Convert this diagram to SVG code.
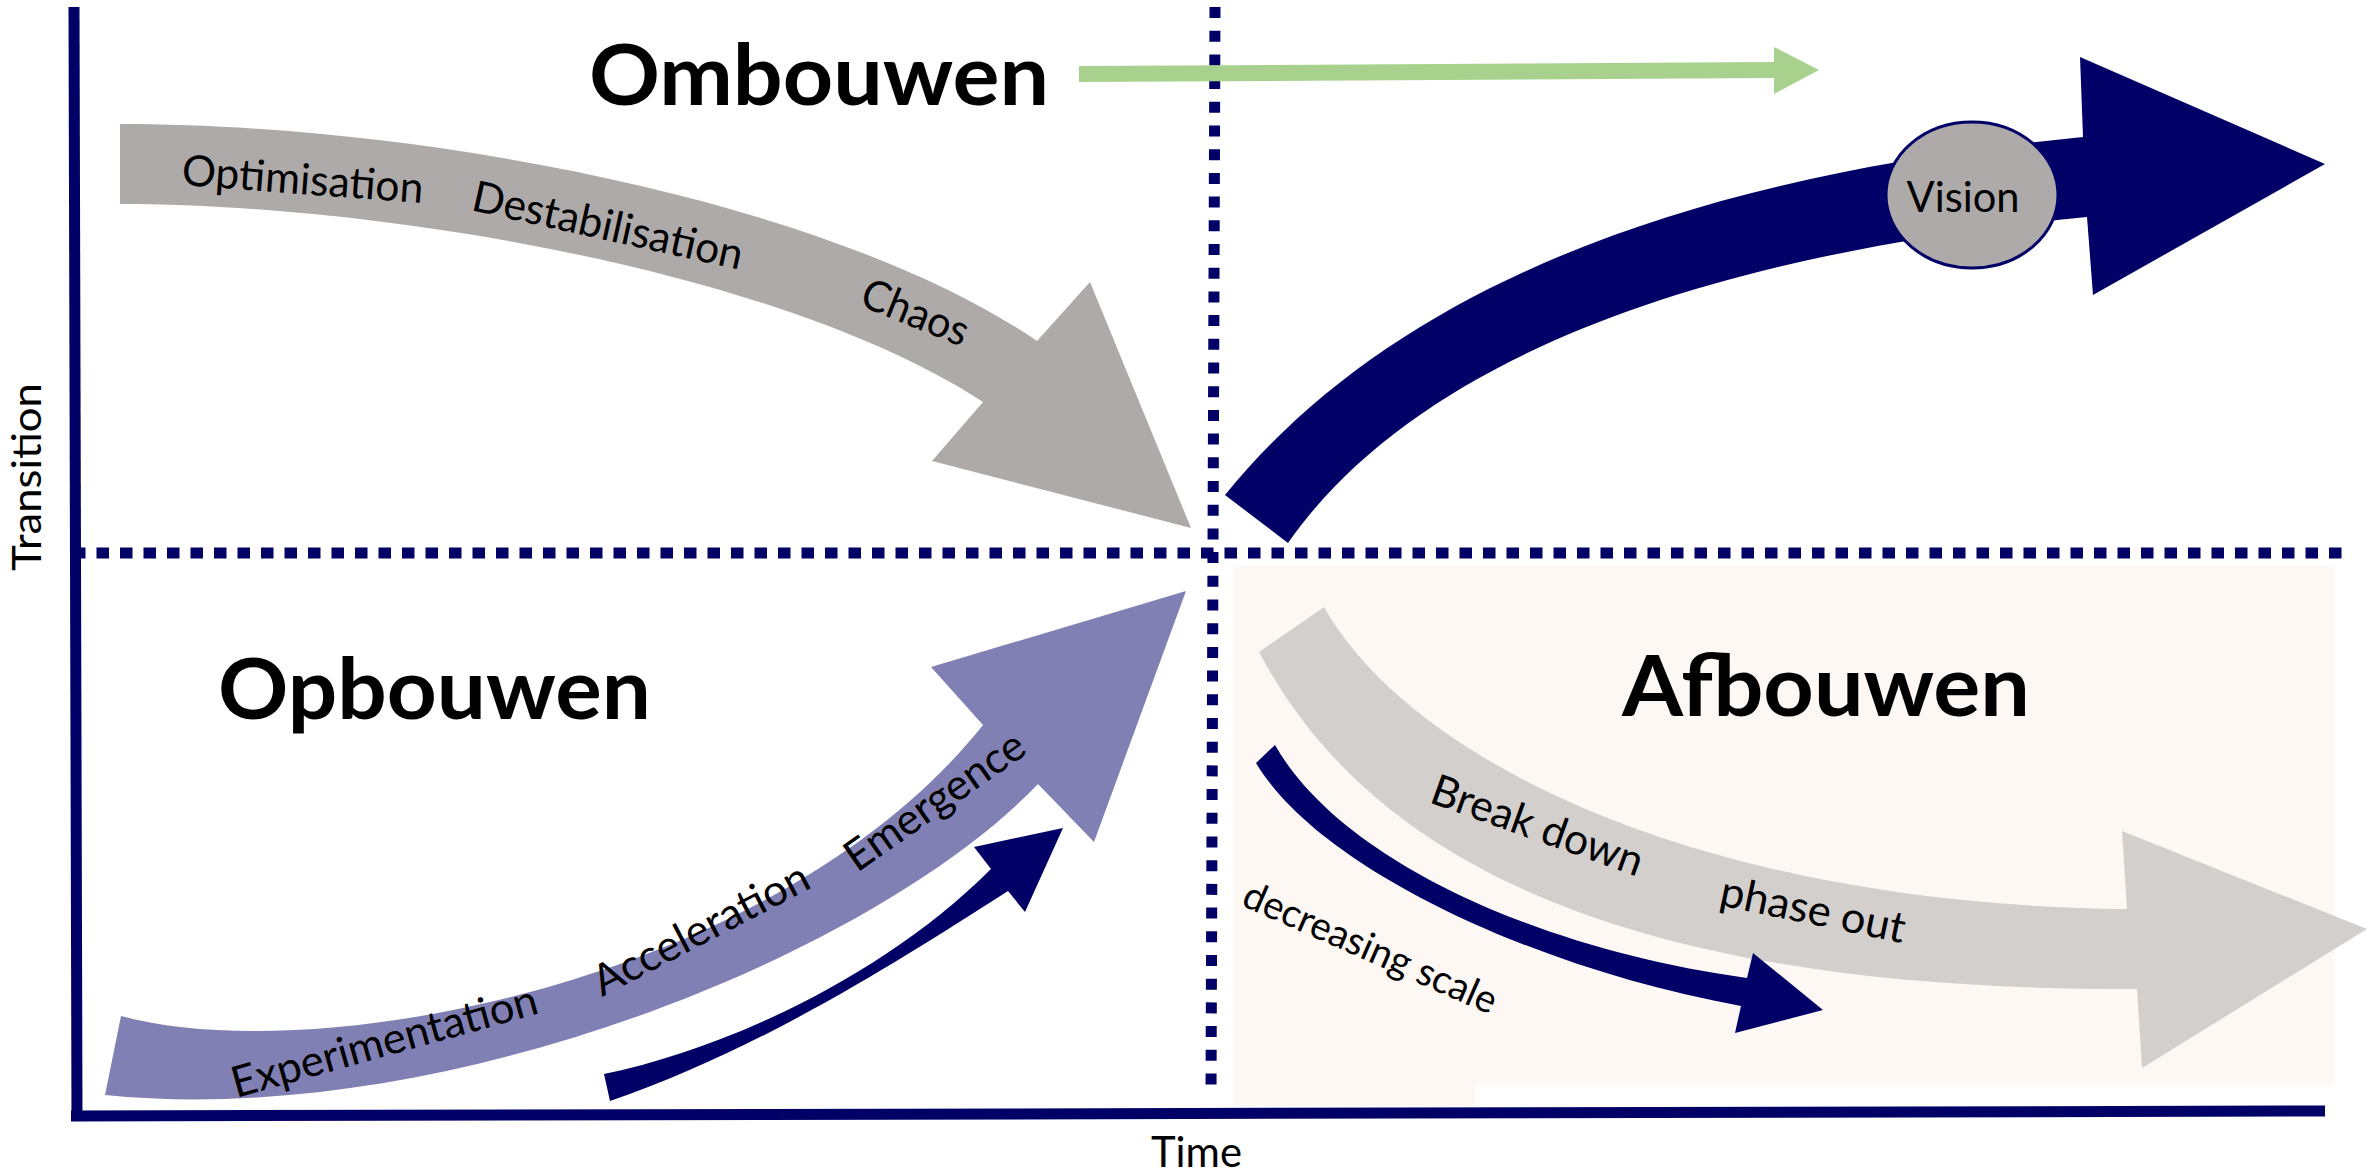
<svg xmlns="http://www.w3.org/2000/svg" width="2369" height="1174" viewBox="0 0 2369 1174">
<style>
.lbl{font-family:Lato,"Open Sans","Liberation Sans",sans-serif;font-size:43px;fill:#000}
.ttl{font-family:Lato,"Open Sans","Liberation Sans",sans-serif;font-size:85px;font-weight:bold;fill:#000}
.navy{fill:#000066}
.dot{fill:none;stroke:#000066;stroke-width:11}
</style>
<rect width="2369" height="1174" fill="#ffffff"/>
<g id="afbouwen-background">
<polygon points="1234,566 2334,566 2334,1085 1475,1085 1475,1106 1234,1106" fill="#fdf8f4"/>
</g>
<g id="axes">
<line x1="74" y1="7" x2="77" y2="1118" stroke="#000066" stroke-width="11"/>
<line x1="71" y1="1116" x2="2325" y2="1111" stroke="#000066" stroke-width="11"/>
<text class="lbl" style="font-size:40px" transform="translate(41,571) rotate(-90)" textLength="188" lengthAdjust="spacingAndGlyphs">Transition</text>
<text class="lbl" x="1151" y="1167" textLength="91" lengthAdjust="spacingAndGlyphs">Time</text>
</g>
<g id="dividers">
<line class="dot" x1="73" y1="553" x2="2342" y2="553" stroke-dasharray="12.5 11"/>
<line class="dot" x1="1215" y1="7" x2="1211" y2="1096" stroke-dasharray="11 12.7"/>
</g>
<g id="ombouwen">
<text class="ttl" x="589" y="105" textLength="460" lengthAdjust="spacingAndGlyphs">Ombouwen</text>
</g>
<g id="connectors">
<polygon points="1079,66 1774,62 1774,47 1819,70 1774,94 1774,78 1079,82" fill="#a9d18e"/>
</g>
<g id="optimisation-arrow">
<path d="M120,124 C420,124 830,200 1037,341 L1090,282 L1191,528 L932,461 L983,402 C780,270 380,204 120,204 Z" fill="#aeaaaa"/>
<text class="lbl" transform="translate(181,185) rotate(4.3)" textLength="242" lengthAdjust="spacingAndGlyphs">Optimisation</text>
<text class="lbl" transform="translate(470,210) rotate(12.5)" textLength="276" lengthAdjust="spacingAndGlyphs">Destabilisation</text>
<text class="lbl" transform="translate(858,305) rotate(22)" textLength="112" lengthAdjust="spacingAndGlyphs">Chaos</text>
</g>
<g id="vision-arrow">
<path class="navy" d="M1225,495 C1400,280 1700,175 2083,137 L2080,57 L2325,164 L2093,295 L2087,217 C1750,250 1430,340 1288,543 Z"/>
<ellipse cx="1972" cy="195" rx="86" ry="73" fill="#aeaaaa" stroke="#000066" stroke-width="3"/>
<text class="lbl" x="1963" y="212" text-anchor="middle" textLength="113" lengthAdjust="spacingAndGlyphs">Vision</text>
</g>
<g id="opbouwen">
<text class="ttl" x="218" y="719" textLength="433" lengthAdjust="spacingAndGlyphs">Opbouwen</text>
</g>
<g id="opbouwen-arrow">
<path d="M121,1016 C320,1070 780,980 983,725 L931,667 L1186,591 L1094,842 L1038,784 C880,950 450,1130 105,1095 Z" fill="#8080b4"/>
<text class="lbl" transform="translate(236,1098) rotate(-15.6)" textLength="316" lengthAdjust="spacingAndGlyphs">Experimentation</text>
<text class="lbl" transform="translate(602,997) rotate(-27.5)" textLength="238" lengthAdjust="spacingAndGlyphs">Acceleration</text>
<text class="lbl" transform="translate(857,873) rotate(-35)" textLength="210" lengthAdjust="spacingAndGlyphs">Emergence</text>
</g>
<g id="scale-up-arrow">
<path class="navy" d="M604,1074 C720,1050 880,980 991,869 L974,847 L1063,828 L1025,912 L1008,891 C900,960 760,1050 610,1101 Z"/>
</g>
<g id="afbouwen">
<text class="ttl" x="1622" y="716" textLength="408" lengthAdjust="spacingAndGlyphs">Afbouwen</text>
</g>
<g id="afbouwen-arrow">
<path d="M1324,607 C1410,760 1700,905 2127,909 L2122,831 L2367,929 L2142,1068 L2137,989 C1750,990 1400,920 1259,652 Z" fill="#d2cfcd"/>
<text class="lbl" transform="translate(1428,802) rotate(19.7)" textLength="222" lengthAdjust="spacingAndGlyphs">Break down</text>
<text class="lbl" transform="translate(1718,905) rotate(11.7)" textLength="188" lengthAdjust="spacingAndGlyphs">phase out</text>
</g>
<g id="decreasing-arrow">
<path class="navy" d="M1275,745 C1340,860 1540,950 1747,978 L1753,953 L1823,1010 L1735,1033 L1741,1006 C1540,970 1320,870 1256,763 Z"/>
<text class="lbl" style="font-size:39px" transform="translate(1240,905) rotate(23.7)" textLength="273" lengthAdjust="spacingAndGlyphs">decreasing scale</text>
</g>
</svg>
